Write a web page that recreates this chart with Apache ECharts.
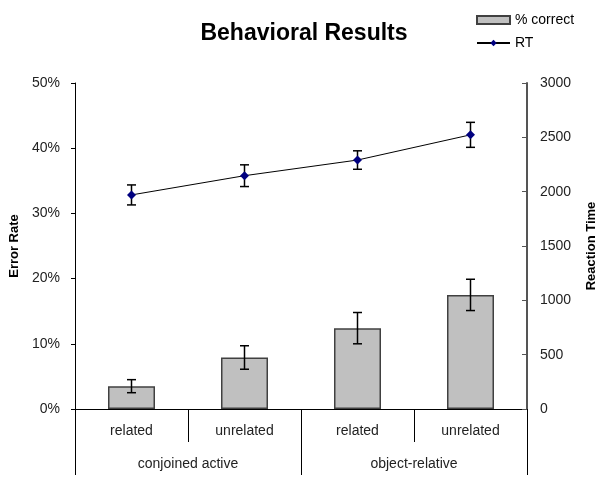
<!DOCTYPE html>
<html>
<head>
<meta charset="utf-8">
<script src="https://cdn.jsdelivr.net/npm/echarts@6/dist/echarts.min.js"></script>
<style>html,body{margin:0;padding:0;background:#fff}#c{width:608px;height:484px}</style>
</head>
<body>
<div id="c"></div>
<script>
const categories = ['related', 'unrelated', 'related', 'unrelated'];
const groups = ['conjoined active', 'object-relative'];
const errorRate = [3.5, 7.9, 12.4, 17.5];
const errorRateErr = [1.0, 1.8, 2.4, 2.4];
const rt = [1970, 2147, 2291, 2523];
const rtErr = [92, 100, 85, 115];
const leftTicks = [0, 10, 20, 30, 40, 50];
const rightTicks = [0, 500, 1000, 1500, 2000, 2500, 3000];

const FONT = 'Liberation Sans';
const chart = echarts.init(document.getElementById('c'), null, {renderer: 'canvas'});

function errRender(params, api) {
  const x = api.value(0), y = api.value(1), e = api.value(2);
  const hi = api.coord([x, y + e]);
  const lo = api.coord([x, y - e]);
  const w = 4.5;
  const st = {stroke: '#000', lineWidth: 1.5};
  return {
    type: 'group',
    children: [
      {type: 'line', shape: {x1: hi[0], y1: hi[1], x2: lo[0], y2: lo[1]}, style: st},
      {type: 'line', shape: {x1: hi[0] - w, y1: hi[1], x2: hi[0] + w, y2: hi[1]}, style: st},
      {type: 'line', shape: {x1: lo[0] - w, y1: lo[1], x2: lo[0] + w, y2: lo[1]}, style: st}
    ]
  };
}

chart.setOption({
  animation: false,
  backgroundColor: '#fff',
  textStyle: {fontFamily: FONT},
  title: {
    text: 'Behavioral Results',
    left: 'center',
    top: 17,
    textStyle: {fontFamily: FONT, fontSize: 23, fontWeight: 'bold', color: '#000'}
  },
  legend: {
    orient: 'vertical',
    left: 471,
    top: 8,
    itemWidth: 33,
    itemHeight: 8,
    itemGap: 9,
    textStyle: {fontFamily: FONT, fontSize: 14, color: '#000'},
    data: [{name: '% correct', icon: 'rect'}, {name: 'RT'}]
  },
  grid: {left: 74, right: 81, top: 83, bottom: 75, containLabel: false},
  xAxis: [
    {
      type: 'category',
      data: categories,
      position: 'bottom',
      boundaryGap: true,
      axisLine: {show: true, lineStyle: {color: '#000', width: 1}},
      axisTick: {show: true, alignWithLabel: false, interval: 0, length: 33, lineStyle: {color: '#000', width: 1}},
      axisLabel: {margin: 15, fontSize: 14, color: '#222', fontFamily: FONT, interval: 0}
    },
    {
      type: 'category',
      data: groups,
      position: 'bottom',
      boundaryGap: true,
      axisLine: {show: false},
      axisTick: {show: true, alignWithLabel: false, interval: 0, length: 66, lineStyle: {color: '#000', width: 1}},
      axisLabel: {margin: 48, fontSize: 14, color: '#222', fontFamily: FONT, interval: 0}
    }
  ],
  yAxis: [
    {
      type: 'value',
      min: leftTicks[0],
      max: leftTicks[leftTicks.length - 1],
      interval: 10,
      name: 'Error Rate',
      nameLocation: 'middle',
      nameRotate: 90,
      nameGap: 54,
      nameTextStyle: {fontFamily: FONT, fontSize: 13, fontWeight: 'bold', color: '#000'},
      axisLine: {show: true, lineStyle: {color: '#000', width: 1}},
      axisTick: {show: true, length: 4, lineStyle: {color: '#000'}},
      axisLabel: {margin: 15, fontSize: 14, color: '#222', fontFamily: FONT, formatter: '{value}%'},
      splitLine: {show: false}
    },
    {
      type: 'value',
      min: rightTicks[0],
      max: rightTicks[rightTicks.length - 1],
      interval: 500,
      position: 'right',
      name: 'Reaction Time',
      nameLocation: 'middle',
      nameRotate: 90,
      nameGap: 58,
      nameTextStyle: {fontFamily: FONT, fontSize: 13, fontWeight: 'bold', color: '#000'},
      axisLine: {show: true, lineStyle: {color: '#555', width: 2}},
      axisTick: {show: true, inside: true, length: 5, lineStyle: {color: '#555'}},
      axisLabel: {margin: 13, fontSize: 14, color: '#222', fontFamily: FONT, formatter: v => String(v)},
      splitLine: {show: false}
    }
  ],
  series: [
    {
      name: '% correct',
      type: 'bar',
      xAxisIndex: 0,
      yAxisIndex: 0,
      barWidth: 47,
      data: errorRate,
      itemStyle: {color: '#C0C0C0', borderColor: '#404040', borderWidth: 1.5}
    },
    {
      type: 'custom',
      xAxisIndex: 0,
      yAxisIndex: 0,
      renderItem: errRender,
      data: errorRate.map((v, i) => [i, v, errorRateErr[i]]),
      z: 5,
      silent: true
    },
    {
      type: 'custom',
      xAxisIndex: 0,
      yAxisIndex: 1,
      renderItem: errRender,
      data: rt.map((v, i) => [i, v, rtErr[i]]),
      z: 5,
      silent: true
    },
    {
      name: 'RT',
      type: 'line',
      xAxisIndex: 0,
      yAxisIndex: 1,
      data: rt,
      symbol: 'diamond',
      symbolSize: 9,
      lineStyle: {color: '#000', width: 1},
      itemStyle: {color: '#000080'},
      z: 6
    }
  ]
});
</script>
</body>
</html>
